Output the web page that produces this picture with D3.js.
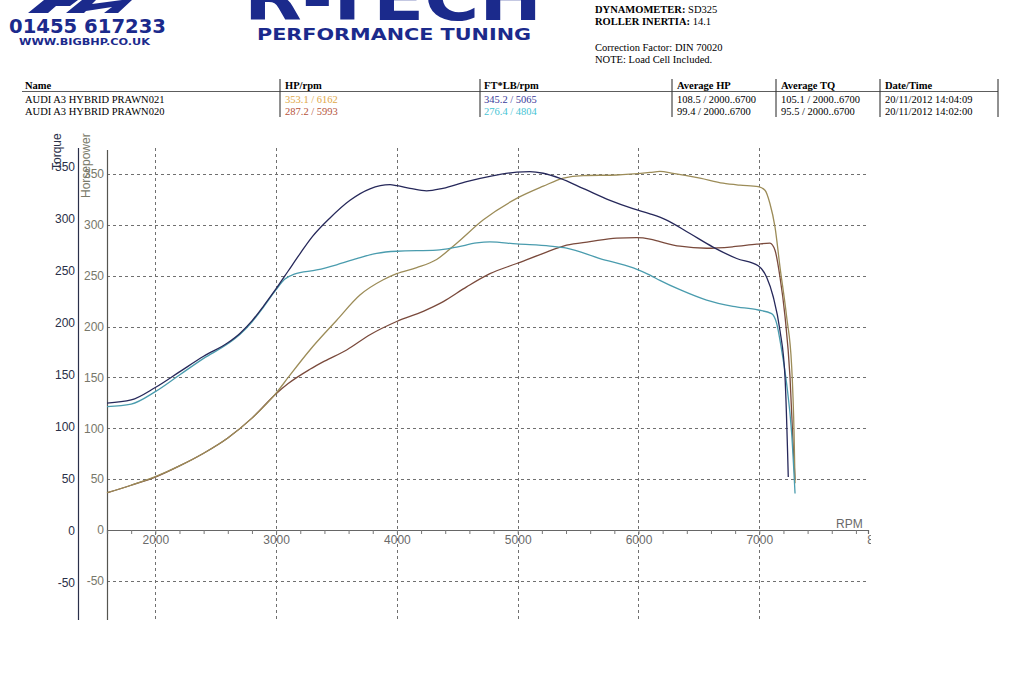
<!DOCTYPE html>
<html><head><meta charset="utf-8">
<script src="https://cdn.jsdelivr.net/npm/d3@7"></script>
<style>body{margin:0;background:#fff}svg{display:block}</style>
</head><body><svg id="c" width="1023" height="675"></svg>
<script>
// ---------- data ----------
const rpmTicks = [2000, 3000, 4000, 5000, 6000, 7000, 8000];
const gridRpm = [2000, 3000, 4000, 5000, 6000, 7000];
const hpTicks = [-50, 0, 50, 100, 150, 200, 250, 300, 350];
const tqTicks = [-50, 0, 50, 100, 150, 200, 250, 300, 350];

const tq021 = [[1600,123],[1800,126],[2000,138],[2200,153],[2400,168],[2600,181],[2700,190],[2800,202],[2900,217],[3000,233],[3100,250],[3200,267],[3300,283],[3446,301],[3612,318],[3777,329],[3943,333],[4000,332],[4108,329.5],[4246,327],[4381,329.5],[4577,336],[4770,341],[4992,345],[5100,345.5],[5211,344],[5351,339],[5540,329.5],[5764,318],[5954,310],[6095,305],[6233,299],[6426,286],[6617,273],[6813,262],[6991,255],[7061,244],[7116,225],[7171,193],[7213,148],[7240,52]];
const tq020 = [[1600,119.5],[1800,122],[2000,134],[2200,150],[2400,166],[2600,180],[2700,189],[2800,201],[2900,216],[3000,232],[3070,242],[3150,247],[3336,251],[3501,256],[3667,262],[3832,267],[3998,269],[4329,270],[4495,273],[4660,277],[4770,278],[4992,276],[5267,274],[5405,272],[5681,262],[5957,253],[6095,246],[6177,241],[6343,232],[6564,222],[6782,216],[6991,212.5],[7102,209],[7143,200],[7185,174],[7226,142],[7268,94],[7296,36]];
const hp021 = [[1600,36.7],[1800,44],[2000,52.4],[2200,63],[2400,75.5],[2600,90.5],[2800,110],[3000,134.5],[3100,150],[3280,177],[3500,206],[3694,231],[3887,246],[3998,252],[4164,258],[4329,266],[4495,282],[4716,305],[4992,326],[5212,338],[5378,346],[5543,348.5],[5819,349],[6095,351.5],[6177,352.5],[6286,350.7],[6509,346],[6700,341],[6840,339],[6991,337.5],[7047,334],[7088,321],[7130,298],[7171,259],[7226,210],[7268,161],[7288,95],[7296,46]];
const hp020 = [[1600,36.5],[1800,44],[2000,52],[2200,63],[2400,75.5],[2600,90.5],[2800,110],[3000,134],[3100,144],[3280,158],[3400,166],[3584,177],[3777,192],[3998,205],[4218,215],[4384,224.5],[4577,239],[4770,252],[4992,262],[5212,272],[5405,280],[5598,283.5],[5819,287],[5985,287.4],[6095,286],[6177,283.5],[6343,279],[6564,277],[6785,278.5],[6979,281],[7088,282],[7130,275],[7171,249],[7213,210],[7254,151],[7282,79],[7296,49]];

const tableHeaders = ["Name", "HP/rpm", "FT*LB/rpm", "Average HP", "Average TQ", "Date/Time"];
const runNames = ["AUDI A3 HYBRID PRAWN021", "AUDI A3 HYBRID PRAWN020"];
const hpPeaks = ["353.1 / 6162", "287.2 / 5993"];
const tqPeaks = ["345.2 / 5065", "276.4 / 4804"];
const avgHp = ["108.5 / 2000..6700", "99.4 / 2000..6700"];
const avgTq = ["105.1 / 2000..6700", "95.5 / 2000..6700"];
const dates = ["20/11/2012 14:04:09", "20/11/2012 14:02:00"];

// ---------- drawing ----------
const svg = d3.select("#c");
const navy = "#1b2a8c";
const serif = "'Liberation Serif','Times New Roman',serif";
const sans = "'Liberation Sans',Arial,sans-serif";
const plain = d => String(d);

// logo left
svg.append("path").attr("d","M28,13 L44,0 L78,0 L70,6 L56,6 L48,13 Z").attr("fill",navy);
svg.append("path").attr("d","M66,13 L82,0 L96,0 L92,4 L122,0 L132,0 L118,13 L104,13 L112,7 L86,11 L84,13 Z").attr("fill",navy);
svg.append("text").attr("x",9).attr("y",33).attr("font-family","'DejaVu Sans',sans-serif").attr("font-weight","bold")
  .attr("font-size",19).attr("fill",navy).attr("textLength",157).attr("lengthAdjust","spacingAndGlyphs").text("01455 617233");
svg.append("text").attr("x",19).attr("y",45).attr("font-family","'DejaVu Sans',sans-serif").attr("font-weight","bold")
  .attr("font-size",9).attr("fill",navy).attr("textLength",131).attr("lengthAdjust","spacingAndGlyphs").text("WWW.BIGBHP.CO.UK");
// R-TECH logo
svg.append("text").attr("x",244).attr("y",20).attr("font-family","'DejaVu Sans',sans-serif").attr("font-weight","bold")
  .attr("font-size",64).attr("fill",navy).attr("textLength",298).attr("lengthAdjust","spacingAndGlyphs").text("R-TECH");
svg.append("text").attr("x",257).attr("y",40).attr("font-family","'DejaVu Sans',sans-serif").attr("font-weight","bold")
  .attr("font-size",15).attr("fill",navy).attr("textLength",274).attr("lengthAdjust","spacingAndGlyphs").text("PERFORMANCE TUNING");

// right info block
const info = svg.append("g").attr("font-family",serif).attr("font-size",10.5).attr("fill","#000");
const t1 = info.append("text").attr("x",595).attr("y",13);
t1.append("tspan").attr("font-weight","bold").text("DYNAMOMETER: ");
t1.append("tspan").text("SD325");
const t2 = info.append("text").attr("x",595).attr("y",25);
t2.append("tspan").attr("font-weight","bold").text("ROLLER INERTIA: ");
t2.append("tspan").text(" 14.1");
info.append("text").attr("x",595).attr("y",51).text("Correction Factor: DIN 70020");
info.append("text").attr("x",595).attr("y",63).text("NOTE: Load Cell Included.");

// table
const colX = [25, 285, 484, 677, 781, 885];
const sepX = [280, 480, 672, 776, 880, 998];
const tbl = svg.append("g").attr("font-family",serif).attr("font-size",10.5);
sepX.forEach(x => tbl.append("line").attr("x1",x).attr("x2",x).attr("y1",79).attr("y2",117).attr("stroke","#222").attr("stroke-width",1));
tbl.append("line").attr("x1",22).attr("x2",998).attr("y1",91.5).attr("y2",91.5).attr("stroke","#333").attr("stroke-width",0.8);
tableHeaders.forEach((h,i) => tbl.append("text").attr("x",colX[i]).attr("y",89).attr("font-weight","bold").attr("fill","#000").text(h));
const hpCols = ["#e0a848", "#b5533a"];
const tqCols = ["#3a3a9a", "#48c4d4"];
[0,1].forEach(r => {
  const y = 103 + r*12;
  tbl.append("text").attr("x",colX[0]).attr("y",y).attr("fill","#000").text(runNames[r]);
  tbl.append("text").attr("x",colX[1]).attr("y",y).attr("fill",hpCols[r]).text(hpPeaks[r]);
  tbl.append("text").attr("x",colX[2]).attr("y",y).attr("fill",tqCols[r]).text(tqPeaks[r]);
  tbl.append("text").attr("x",colX[3]).attr("y",y).attr("fill","#000").text(avgHp[r]);
  tbl.append("text").attr("x",colX[4]).attr("y",y).attr("fill","#000").text(avgTq[r]);
  tbl.append("text").attr("x",colX[5]).attr("y",y).attr("fill","#000").text(dates[r]);
});

// scales
const x = d3.scaleLinear().domain([1600, 7900]).range([107, 868]);
const yHp = d3.scaleLinear().domain([0, 350]).range([530, 174]);
const yTq = d3.scaleLinear().domain([0, 350]).range([531, 167]);

svg.append("clipPath").attr("id","clip").append("rect").attr("x",0).attr("y",0).attr("width",871).attr("height",675);
const chart = svg.append("g").attr("clip-path","url(#clip)");

// grid
const grid = chart.append("g").attr("stroke","#707070").attr("stroke-width",1).attr("stroke-dasharray","3,3");
hpTicks.filter(v => v !== 0).forEach(v => grid.append("line").attr("x1",107).attr("x2",868)
  .attr("y1",Math.round(yHp(v))+0.5).attr("y2",Math.round(yHp(v))+0.5));
gridRpm.forEach(r => grid.append("line").attr("x1",Math.round(x(r))+0.5).attr("x2",Math.round(x(r))+0.5).attr("y1",148).attr("y2",620));

// axes lines
chart.append("line").attr("x1",78.5).attr("x2",78.5).attr("y1",148).attr("y2",620).attr("stroke","#2a2f4a").attr("stroke-width",1.2);
chart.append("line").attr("x1",107.5).attr("x2",107.5).attr("y1",150).attr("y2",620).attr("stroke","#555550").attr("stroke-width",1.2);

// y axes labels
const tqAxis = chart.append("g").attr("transform","translate(78,0)")
  .call(d3.axisLeft(yTq).tickValues(tqTicks).tickSize(0).tickPadding(3).tickFormat(plain));
tqAxis.select(".domain").remove();
tqAxis.selectAll("text").attr("font-family",sans).attr("font-size",12).attr("fill","#2a3048");
const hpAxis = chart.append("g").attr("transform","translate(107,0)")
  .call(d3.axisLeft(yHp).tickValues(hpTicks).tickSize(0).tickPadding(3).tickFormat(plain));
hpAxis.select(".domain").remove();
hpAxis.selectAll("text").attr("font-family",sans).attr("font-size",12).attr("fill","#77776a");

// x axis
const xMinor = d3.range(1800, 7900, 200);
const xm = chart.append("g").attr("transform","translate(0,530)")
  .call(d3.axisBottom(x).tickValues(xMinor).tickSize(4).tickFormat(""));
xm.select(".domain").attr("stroke","#666").attr("stroke-width",1.2);
xm.selectAll(".tick line").attr("stroke","#777");
const xl = chart.append("g").attr("transform","translate(0,530)")
  .call(d3.axisBottom(x).tickValues(rpmTicks).tickSize(0).tickPadding(5).tickFormat(plain));
xl.select(".domain").remove();
xl.selectAll("text").attr("font-family",sans).attr("font-size",12).attr("fill","#6a6a6a");
chart.append("text").attr("x",836).attr("y",528).attr("font-family",sans).attr("font-size",12).attr("fill","#6a6a6a").text("RPM");

// axis titles
chart.append("text").attr("transform","translate(61,170) rotate(-90)").attr("font-family",sans).attr("font-size",12)
  .attr("fill","#2a3048").text("Torque");
chart.append("text").attr("transform","translate(90,198) rotate(-90)").attr("font-family",sans).attr("font-size",12)
  .attr("fill","#7a7a6a").text("Horsepower");

// curves
const lineHp = d3.line().x(d => x(d[0])).y(d => yHp(d[1])).curve(d3.curveMonotoneX);
const lineTq = d3.line().x(d => x(d[0])).y(d => yTq(d[1])).curve(d3.curveMonotoneX);
const curves = chart.append("g").attr("fill","none").attr("stroke-width",1.3);
curves.append("path").datum(hp020).attr("d",lineHp).attr("stroke","#7a4a3c");
curves.append("path").datum(hp021).attr("d",lineHp).attr("stroke","#9c8c58");
curves.append("path").datum(tq020).attr("d",lineTq).attr("stroke","#4a9cae");
curves.append("path").datum(tq021).attr("d",lineTq).attr("stroke","#26285a");
</script></body></html>
